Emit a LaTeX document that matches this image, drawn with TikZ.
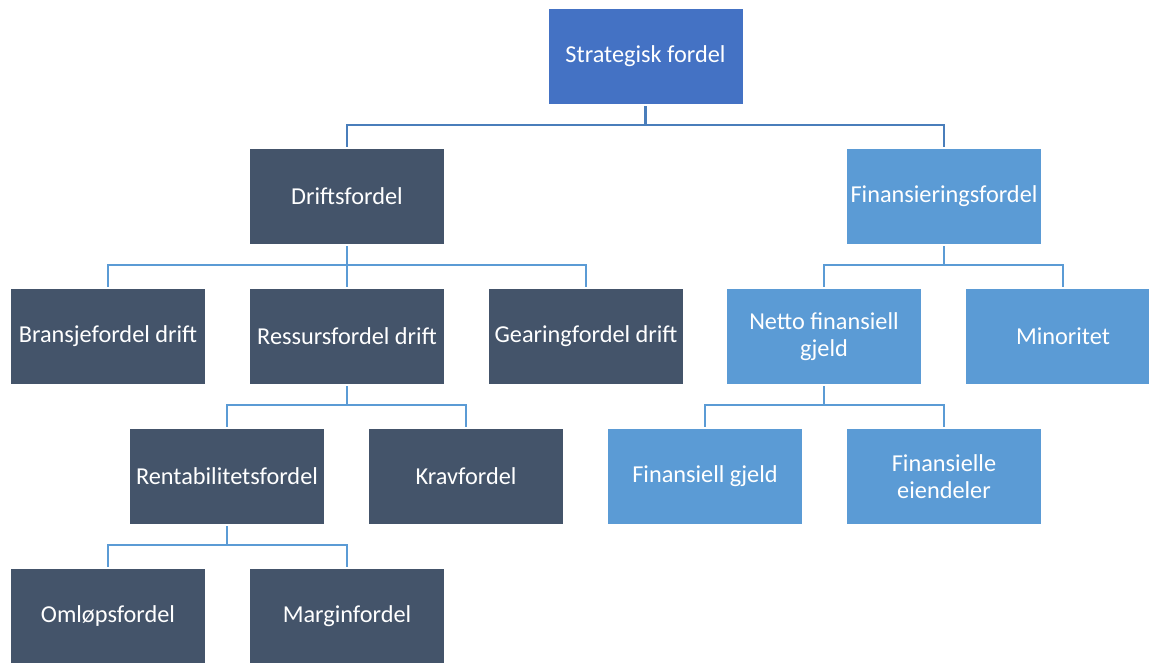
\documentclass[tikz,border=0pt]{standalone}
\usepackage{fontspec}
\setmainfont{Carlito}
\definecolor{topblue}{HTML}{4472C4}
\definecolor{slate}{HTML}{44546A}
\definecolor{skyblue}{HTML}{5B9BD5}
\definecolor{linkdark}{HTML}{4A7EBB}
\definecolor{linklight}{HTML}{5B9BD5}
\begin{document}
\begin{tikzpicture}[x=1pt,y=1pt,
  box/.style={minimum width=194pt,minimum height=95pt,inner sep=0pt,
    text=white,align=center,font=\fontsize{24.3}{27}\selectfont},
  rootbox/.style={box,fill=topblue},
  darkbox/.style={box,fill=slate},
  lightbox/.style={box,fill=skyblue},
  link/.style={draw=linklight,line width=2.6pt},
  rootlink/.style={draw=linkdark,line width=2.6pt}]
\useasboundingbox (0,0) rectangle (1149,663);
\fill[white] (0,0) rectangle (1149,663);
\begin{scope}
\clip (0,0) rectangle (1149,663);
% boxes (y measured upward from the bottom edge)
\node[rootbox]  (top)   at (645.5,606.5) {Strategisk fordel};
\node[darkbox]  (drift) at (347,466.5) {Driftsfordel};
\node[lightbox] (fin)   at (944,466.5) {Finansieringsfordel};
\node[darkbox]  (bran)  at (108,326.5) {Bransjefordel drift};
\node[darkbox]  (res)   at (347,326.5) {Ressursfordel drift};
\node[darkbox]  (gear)  at (586,326.5) {Gearingfordel drift};
\node[lightbox] (netto) at (824,326.5) {Netto finansiell\\gjeld};
\node[lightbox] (mino)  at (1063,326.5) {Minoritet};
\node[darkbox]  (rent)  at (227,186.5) {Rentabilitetsfordel};
\node[darkbox]  (krav)  at (466,186.5) {Kravfordel};
\node[lightbox] (fgj)   at (705,186.5) {Finansiell gjeld};
\node[lightbox] (feie)  at (944,186.5) {Finansielle\\eiendeler};
\node[darkbox]  (oml)   at (108,46.5) {Omløpsfordel};
\node[darkbox]  (marg)  at (347,46.5) {Marginfordel};
% elbow connectors from each parent to its children
\foreach \p/\c in {top/drift,top/fin}
  \draw[rootlink] ([yshift=-2pt]\p.south) -- ++(0,-19) -| ([yshift=2pt]\c.north);
\foreach \p/\c in {drift/bran,drift/res,drift/gear,fin/netto,fin/mino,
                   res/rent,res/krav,netto/fgj,netto/feie,rent/oml,rent/marg}
  \draw[link] ([yshift=-2pt]\p.south) -- ++(0,-19) -| ([yshift=2pt]\c.north);
\end{scope}
\end{tikzpicture}
\end{document}
